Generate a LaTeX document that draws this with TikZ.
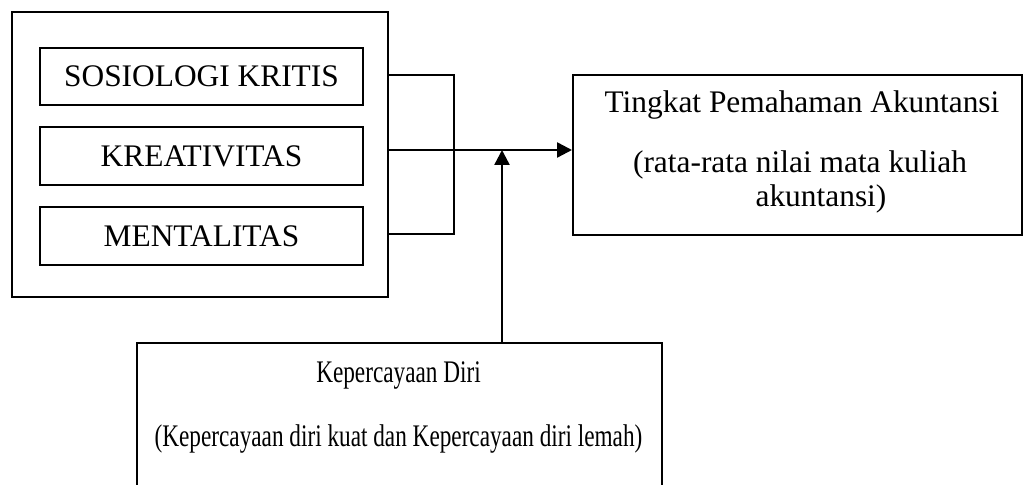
\documentclass[tikz,border=0pt]{standalone}
\usepackage{fontspec}
\setmainfont{Liberation Serif}
\usetikzlibrary{arrows.meta}
\begin{document}
\begin{tikzpicture}[x=0.5pt,y=-0.5pt,line width=1pt,
	kotak/.style={draw,inner sep=0pt,font=\fontsize{15.7}{19}\selectfont},
	teks/.style={anchor=base,inner sep=0pt,font=\fontsize{15.7}{19}\selectfont},
	panah/.style={-{Triangle[length=7.5pt,width=7.5pt]},line width=1.2pt}]
		\useasboundingbox (0,0) rectangle (1024,485);
		\clip (0,0) rectangle (1024,485);
			\node[kotak,minimum width=188pt,minimum height=142.5pt] (luar) at (200,154.5) {};
			\node[kotak,minimum width=161.5pt,minimum height=28.5pt] (sos) at (201.5,76.5) {SOSIOLOGI KRITIS};
			\node[kotak,minimum width=161.5pt,minimum height=29pt] (kre) at (201.5,156) {KREATIVITAS};
			\node[kotak,minimum width=161.5pt,minimum height=29pt] (men) at (201.5,236) {MENTALITAS};
			\node[kotak,minimum width=224.5pt,minimum height=80pt] (hasil) at (797.5,155) {};
			\node[kotak,minimum width=262.5pt,minimum height=93.5pt] (diri) at (399.5,436.5) {};
			\node[teks] (t1) at (802,113) {Tingkat Pemahaman Akuntansi};
			\node[teks] (t2) at (800,173) {(rata-rata nilai mata kuliah};
			\node[teks] (t3) at (821,207) {akuntansi)};
			\node[teks] (d1) at (398.5,383) {\scalebox{0.74}[1]{Kepercayaan Diri}};
			\node[teks] (d2) at (398.5,447) {\scalebox{0.74}[1]{(Kepercayaan diri kuat dan Kepercayaan diri lemah)}};
			\coordinate (atas) at (454,75);
			\coordinate (bawah) at (454,234);
			\coordinate (temu) at (502,150);
			\draw (luar.east |- atas) -- (atas) -- (bawah) -- (luar.east |- bawah);
			\draw[panah] (luar.east |- temu) -- (hasil.west |- temu);
			\draw[panah] (diri.north -| temu) -- (temu);
\end{tikzpicture}
\end{document}
